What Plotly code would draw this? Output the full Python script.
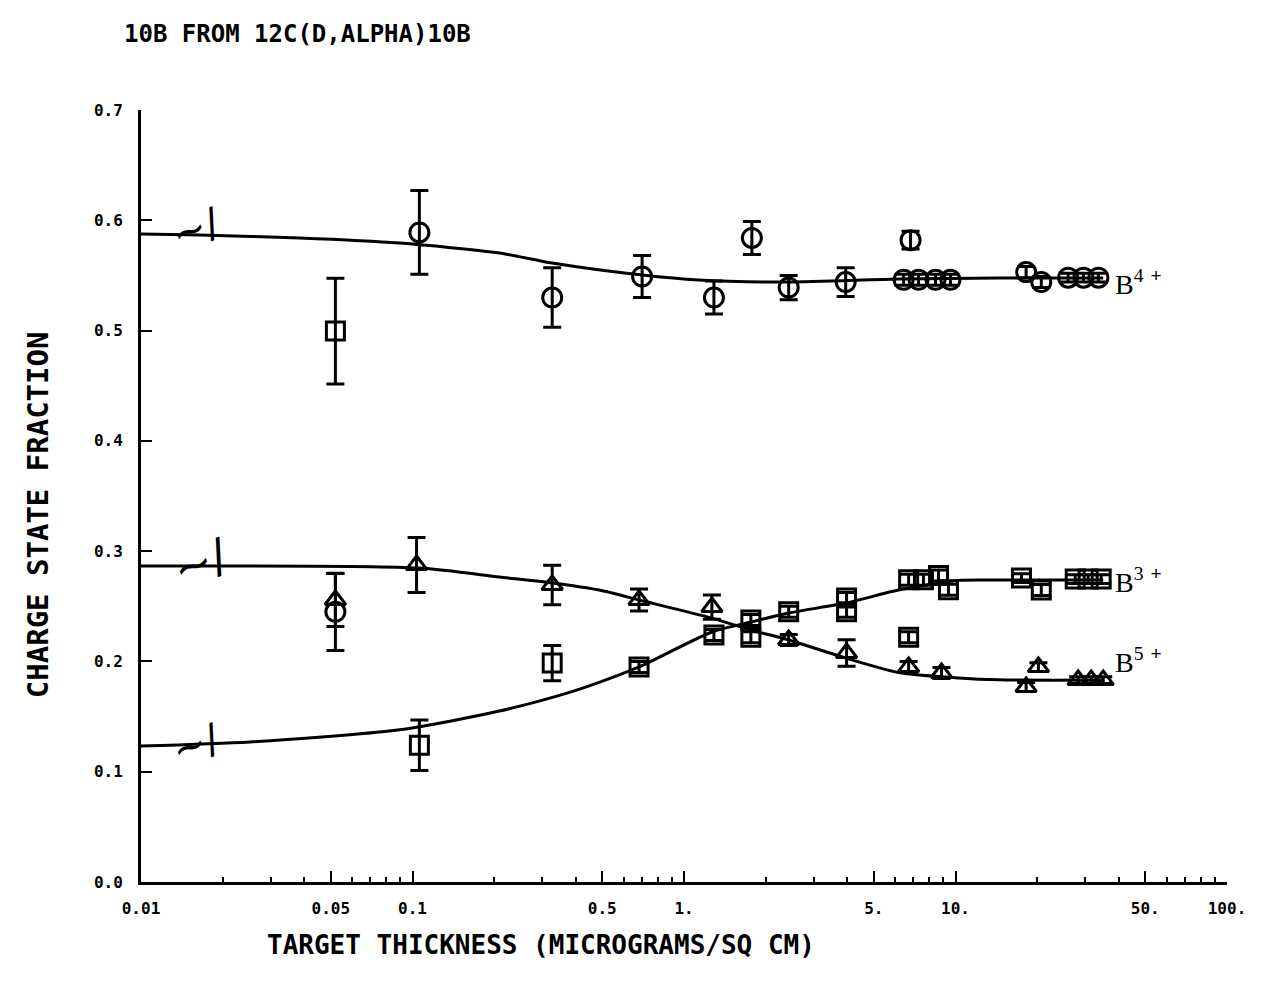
import math
import plotly.graph_objects as go

# ---- data ----
# open circles (B4+ symbol in the plot)
circ_x = [0.052, 0.106, 0.327, 0.701, 1.289, 1.778, 2.43, 3.94, 6.83,
          6.44, 7.31, 8.44, 9.58, 18.2, 20.7, 26.0, 29.6, 33.6]
circ_y = [0.245, 0.589, 0.530, 0.549, 0.530, 0.584, 0.539, 0.544, 0.582,
          0.546, 0.546, 0.546, 0.546, 0.553, 0.544, 0.548, 0.548, 0.548]
circ_err = [0.035, 0.038, 0.027, 0.019, 0.015, 0.015, 0.011, 0.013, 0.008,
            0.005, 0.005, 0.005, 0.005, 0.005, 0.005, 0.004, 0.004, 0.004]

# open squares (B3+ symbol)
sq_x = [0.052, 0.106, 0.327, 0.683, 1.289, 1.763, 1.763, 2.43, 3.97, 3.97,
        6.72, 6.72, 7.62, 8.66, 9.42, 17.5, 20.7, 27.6, 30.8, 34.4]
sq_y = [0.4995, 0.124, 0.1985, 0.195, 0.224, 0.2375, 0.222, 0.245, 0.2575, 0.245,
        0.222, 0.274, 0.274, 0.278, 0.265, 0.2756, 0.2647, 0.2747, 0.2747, 0.2747]
sq_err = [0.048, 0.023, 0.016, 0.005, 0.005, 0.005, 0.005, 0.005, 0.005, 0.005,
          0.005, 0.005, 0.005, 0.005, 0.005, 0.004, 0.005, 0.004, 0.004, 0.004]

# open triangles (B5+ symbol)
tri_x = [0.052, 0.1035, 0.327, 0.683, 1.267, 2.43, 3.97, 6.72, 8.88,
         20.2, 18.2, 28.3, 31.6, 35.0]
tri_y = [0.2557, 0.2874, 0.2693, 0.2557, 0.2493, 0.2194, 0.2076, 0.1949, 0.1895,
         0.1949, 0.1768, 0.1831, 0.1831, 0.1831]
tri_err = [0.024, 0.025, 0.018, 0.010, 0.011, 0.005, 0.012, 0.005, 0.005,
           0.004, 0.004, 0.003, 0.003, 0.003]

# smooth fitted curves
b4_x = [0.01, 0.01648, 0.0384, 0.0895, 0.209, 0.327, 0.701, 1.135, 2.43, 6.17, 14.4, 35.0]
b4_y = [0.5875, 0.5866, 0.5839, 0.5793, 0.5703, 0.5612, 0.5503, 0.5458, 0.5440, 0.5467, 0.5476, 0.5476]

b3_x = [0.01, 0.0252, 0.0895, 0.209, 0.368, 0.487, 0.683, 1.267, 1.763, 2.43, 3.94, 6.17, 10.26, 14.4, 35.0]
b3_y = [0.1233, 0.127, 0.138, 0.155, 0.171, 0.181, 0.195, 0.2267, 0.2357, 0.2439, 0.2529, 0.2647, 0.2735, 0.2738, 0.2738]

b5_x = [0.01, 0.106, 0.209, 0.327, 0.487, 0.683, 1.267, 1.763, 2.43, 3.94, 6.17, 10.26, 14.4, 35.0]
b5_y = [0.2865, 0.2847, 0.2765, 0.2711, 0.2647, 0.2557, 0.2393, 0.2285, 0.2194, 0.2031, 0.1900, 0.1850, 0.1833, 0.1831]

x_tickvals = [0.01, 0.05, 0.1, 0.5, 1, 5, 10, 50, 100]
x_ticktext = ["0.01", "0.05", "0.1", "0.5", "1.", "5.", "10.", "50.", "100."]
y_tickvals = [0.0, 0.1, 0.2, 0.3, 0.4, 0.5, 0.6, 0.7]
y_ticktext = ["0.0", "0.1", "0.2", "0.3", "0.4", "0.5", "0.6", "0.7"]

curve_labels = ["B<sup>4</sup> <sup><b>+</b></sup>",
                "B<sup>3</sup> <sup><b>+</b></sup>",
                "B<sup>5</sup> <sup><b>+</b></sup>"]

TITLE = "10B FROM 12C(D,ALPHA)10B"
XTITLE = "TARGET THICKNESS (MICROGRAMS/SQ CM)"
YTITLE = "CHARGE STATE FRACTION"

# ---- figure ----
INK = "black"
MONO = "DejaVu Sans Mono"

fig = go.Figure()

for cx, cy in [(b4_x, b4_y), (b3_x, b3_y), (b5_x, b5_y)]:
    fig.add_trace(go.Scatter(x=cx, y=cy, mode="lines",
                             line=dict(color=INK, width=3, shape="spline", smoothing=0.7),
                             showlegend=False, hoverinfo="skip"))

for px, py, pe, sym, sz in [(circ_x, circ_y, circ_err, "circle-open", 19),
                            (sq_x, sq_y, sq_err, "square-open", 18),
                            (tri_x, tri_y, tri_err, "triangle-up-open", 18)]:
    fig.add_trace(go.Scatter(
        x=px, y=py, mode="markers",
        marker=dict(symbol=sym, size=sz, color=INK, line=dict(width=3, color=INK)),
        error_y=dict(type="data", array=pe, visible=True, color=INK, thickness=3, width=9),
        showlegend=False))

annotations = []
# curve-end labels
for cx, cy, lab, ysh in [(b4_x, b4_y, curve_labels[0], -4),
                         (b3_x, b3_y, curve_labels[1], 0),
                         (b5_x, b5_y, curve_labels[2], 20)]:
    annotations.append(dict(x=math.log10(cx[-1]), y=cy[-1], xref="x", yref="y",
                            text=lab, showarrow=False, xanchor="left", yanchor="middle",
                            xshift=10, yshift=ysh,
                            font=dict(family="Liberation Serif", size=28, color=INK)))
# axis-break marks near the start of each curve
for (cx, cy), ysh, sz in [((b4_x, b4_y), 6, 40), ((b3_x, b3_y), 2, 40), ((b5_x, b5_y), 4, 46)]:
    annotations.append(dict(x=math.log10(cx[0]), y=cy[0], xref="x", yref="y",
                            text="~/", showarrow=False, xanchor="left", yanchor="middle",
                            xshift=22, yshift=ysh, textangle=-20,
                            font=dict(family="DejaVu Sans", size=sz, color=INK)))
# axis titles and chart title (paper coords relative to the plot area 141..1229 x 110..882)
annotations.append(dict(x=(38 - 141) / 1088, y=(882 - 515) / 772, xref="paper", yref="paper",
                        text=YTITLE, textangle=-90, showarrow=False,
                        xanchor="center", yanchor="middle",
                        font=dict(family=MONO, size=29, color=INK, weight="bold")))
annotations.append(dict(x=(542 - 141) / 1088, y=-(945 - 882) / 772, xref="paper", yref="paper",
                        text=XTITLE, showarrow=False, xanchor="center", yanchor="middle",
                        font=dict(family=MONO, size=26, color=INK, weight="bold")))
annotations.append(dict(x=(122 - 141) / 1088, y=1 + (110 - 34) / 772, xref="paper", yref="paper",
                        text=TITLE, showarrow=False, xanchor="left", yanchor="middle",
                        font=dict(family=MONO, size=24, color=INK, weight="bold")))

# page body has an 8px margin: size the figure so the plot area lands at 141..1229 x 110..882
fig.update_layout(
    width=1250, height=971,
    margin=dict(l=133, r=29, t=102, b=97),
    paper_bgcolor="white", plot_bgcolor="white",
    annotations=annotations,
)

fig.update_xaxes(type="log", range=[-2, 2], showgrid=False, zeroline=False,
                 showline=True, linecolor=INK, linewidth=3,
                 ticks="inside", ticklen=11, tickwidth=2, tickcolor=INK,
                 tickvals=x_tickvals, ticktext=x_ticktext, ticklabelstandoff=10,
                 tickfont=dict(family=MONO, size=16, color=INK, weight="bold"),
                 minor=dict(ticks="inside", ticklen=5, tickwidth=2, tickcolor=INK, dtick="D1", showgrid=False))
fig.update_yaxes(range=[0, 0.7], showgrid=False, zeroline=False,
                 showline=True, linecolor=INK, linewidth=3,
                 ticks="inside", ticklen=11, tickwidth=2, tickcolor=INK,
                 tickvals=y_tickvals, ticktext=y_ticktext, ticklabelstandoff=12,
                 tickfont=dict(family=MONO, size=16, color=INK, weight="bold"))

fig.write_html("out.html")
